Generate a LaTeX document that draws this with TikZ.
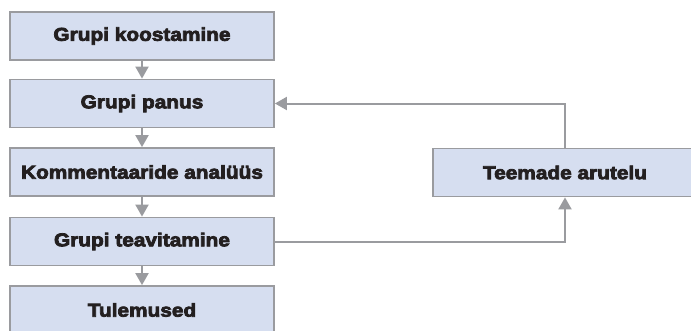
\documentclass[tikz,border=0pt]{standalone}
\usepackage{fontspec}
\setmainfont{Liberation Sans}[FakeStretch=1.12,FakeBold=4]
\usetikzlibrary{arrows.meta}
\definecolor{boxfill}{HTML}{D6DEF0}
\definecolor{boxline}{HTML}{9A9B9F}
\definecolor{txt}{HTML}{231F20}
\begin{document}
\begin{tikzpicture}[x=1pt,y=-1pt,
  stepbox/.style={draw=boxline, line width=1.8pt, fill=boxfill, minimum width=264pt, minimum height=48pt, inner sep=0pt,
    font=\fontsize{18.6}{20}\selectfont\bfseries, text=txt},
  conn/.style={draw=boxline, line width=2pt, -{Triangle[length=12pt,width=13pt]}}]
\useasboundingbox (0,0) rectangle (691,330);
\clip (0,0) rectangle (691,330);
\node[stepbox] (a) at (142,36) {Grupi koostamine};
\node[stepbox] (b) at (142,103.5) {Grupi panus};
\node[stepbox] (c) at (142,172) {Kommentaaride analüüs};
\node[stepbox] (d) at (142,241.5) {Grupi teavitamine};
\node[stepbox] (e) at (142,310) {Tulemused};
\node[stepbox] (t) at (565,172.5) {Teemade arutelu};
\draw[conn] (a) -- (b);
\draw[conn] (b) -- (c);
\draw[conn] (c) -- (d);
\draw[conn] (d) -- (e);
\draw[conn] (t.north) |- (b.east);
\draw[conn] (d.east) -| (t.south);
\end{tikzpicture}
\end{document}
